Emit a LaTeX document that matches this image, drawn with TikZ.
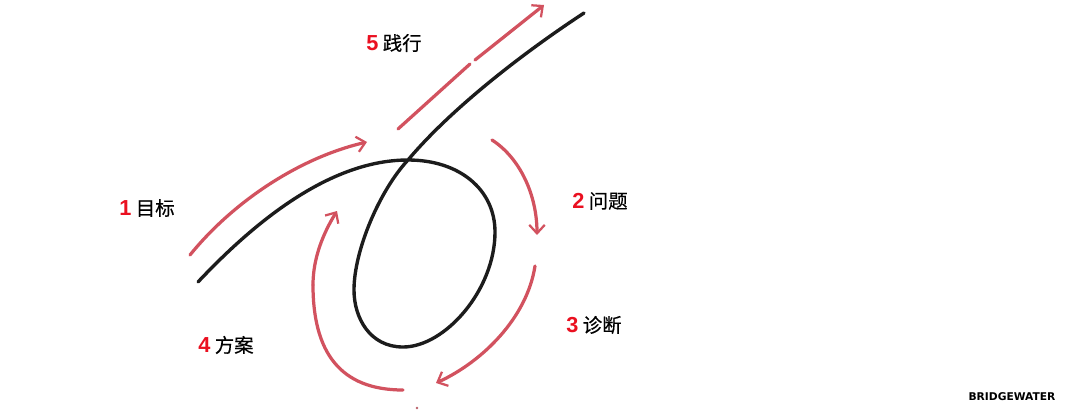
\documentclass[tikz,border=0pt]{standalone}
\usepackage{fontspec}
\usepackage{xcolor}
\setmainfont[FakeBold=0.5]{Noto Sans CJK SC}
\newfontfamily\numfont[Scale=1.12]{Liberation Sans}
\newfontfamily\brandfont{DejaVu Sans}
\usetikzlibrary{arrows.meta}
\definecolor{arcred}{HTML}{D2525F}
\definecolor{numred}{HTML}{EA1020}
\definecolor{curveblack}{HTML}{1C1C1C}
\newcommand{\stepnum}[1]{\textcolor{numred}{\numfont\bfseries #1}}
\tikzset{
 arc/.style={draw=arcred, line width=2.3pt, line cap=round},
 arctip/.style={arc, -{Straight Barb[length=6pt, width=11pt, line width=1.6pt]}},
 curve/.style={draw=curveblack, line width=2.4pt, line cap=round},
 steplabel/.style={font=\fontsize{13.8}{15}\selectfont, text=black, inner sep=0pt},
}

\begin{document}
\begin{tikzpicture}[x=.025cm, y=-.025cm]
    \useasboundingbox (0, 0) rectangle (1080, 414);
    % black curve
    \draw[curve] (198, 282) .. controls (262, 214) and (335, 160) .. (408, 160)
        .. controls (460, 160) and (495, 190) .. (495, 232)
        .. controls (495, 290) and (445, 347) .. (403, 347)
        .. controls (370, 347) and (354, 318) .. (354, 290)
        .. controls (354, 250) and (380, 190) .. (408, 160)
        .. controls (450, 110) and (520, 55) .. (584, 13);
    % red arcs
    \coordinate (goalstart) at (190, 255);
    \coordinate (goalend) at (367, 142);
    \coordinate (problemstart) at (492, 140);
    \coordinate (problemend) at (537, 235);
    \coordinate (diagnosisstart) at (535, 266);
    \coordinate (diagnosisend) at (436, 383);
    \coordinate (designstart) at (403, 390);
    \coordinate (designmid) at (313, 285);
    \coordinate (designend) at (337, 211);
    \coordinate (dostart) at (398, 129);
    \coordinate (dogapa) at (470, 64);
    \coordinate (dogapb) at (475, 60);
    \coordinate (doend) at (544, 5);
    \draw[arctip] (goalstart) .. controls (232, 203) and (298, 158) .. (goalend);
    \draw[arctip] (problemstart) .. controls (520, 158) and (537, 195) .. (problemend);
    \draw[arctip] (diagnosisstart) .. controls (527, 318) and (482, 362) .. (diagnosisend);
    \draw[arc] (designstart) .. controls (340, 390) and (313, 352) .. (designmid);
    \draw[arctip] (designmid) .. controls (313, 257) and (324, 232) .. (designend);
    \draw[arc] (dostart) -- (dogapa);
    \draw[arctip] (dogapb) -- (doend);
    \fill[arcred!70!gray] (417, 408) circle (1.3);
    % labels
    \node[steplabel] (goal) at (147, 208) {\stepnum{1} 目标};
    \node[steplabel] (problem) at (600, 201) {\stepnum{2} 问题};
    \node[steplabel] (diagnosis) at (594, 325) {\stepnum{3} 诊断};
    \node[steplabel] (design) at (226, 345) {\stepnum{4} 方案};
    \node[steplabel] (do) at (394, 43) {\stepnum{5} 践行};
    \node[font=\brandfont\bfseries\fontsize{7.6}{9}\selectfont, inner sep=0pt] (brand) at (1012, 397) {BRIDGEWATER};
\end{tikzpicture}
\end{document}
